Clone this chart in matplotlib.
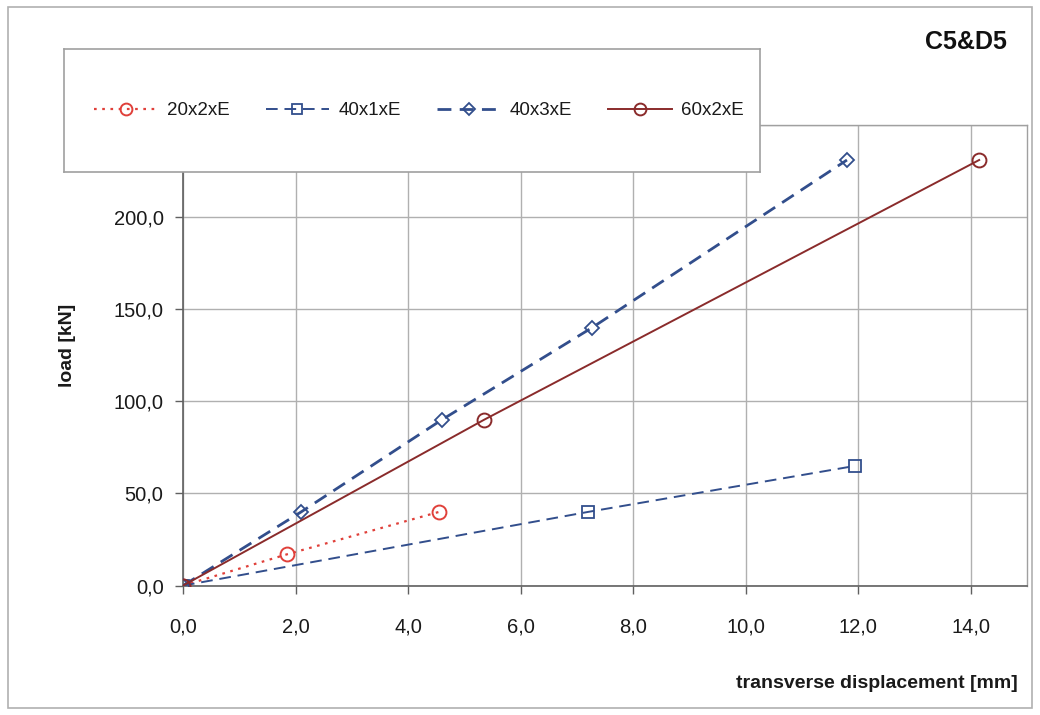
import matplotlib
matplotlib.use("Agg")
import matplotlib.pyplot as plt
from matplotlib.patches import Rectangle

plt.rcParams['font.family'] = ['Liberation Sans', 'DejaVu Sans']

# ---- data ----
series_names = ["20x2xE", "40x1xE", "40x3xE", "60x2xE"]
x_20x2 = [0.0, 1.85, 4.55]
y_20x2 = [0.0, 17.0, 40.0]
x_40x1 = [0.0, 7.2, 11.95]
y_40x1 = [0.0, 40.0, 65.0]
x_40x3 = [0.0, 2.1, 4.6, 7.27, 11.8]
y_40x3 = [0.0, 40.0, 90.0, 140.0, 231.0]
x_60x2 = [0.0, 5.35, 14.15]
y_60x2 = [0.0, 90.0, 231.0]

x_ticks = [0, 2, 4, 6, 8, 10, 12, 14]
x_tick_labels = ["0,0", "2,0", "4,0", "6,0", "8,0", "10,0", "12,0", "14,0"]
y_ticks = [0, 50, 100, 150, 200, 250]
y_tick_labels = ["0,0", "50,0", "100,0", "150,0", "200,0", "250,0"]

title = "C5&D5"
x_label = "transverse displacement [mm]"
y_label = "load [kN]"

W, H = 1040, 715
fig = plt.figure(figsize=(W / 100, H / 100), dpi=100)
fig.patch.set_facecolor("white")

# outer frame
fig.patches.append(Rectangle((8 / W, 1 - 708 / H), (1032 - 8) / W, (708 - 7) / H,
                             transform=fig.transFigure, fill=False,
                             edgecolor="#b0b0b0", linewidth=1.2, zorder=0))

left, right, top, bottom = 183, 1027, 125, 585.6
ax = fig.add_axes([left / W, 1 - bottom / H, (right - left) / W, (bottom - top) / H])

red = "#e0403a"
blue = "#324e8c"
maroon = "#8a2b2b"

l1, = ax.plot(x_20x2, y_20x2, color=red, linestyle=(0, (1.2, 2.5)), linewidth=1.6,
              marker="o", markersize=10, markerfacecolor="none", markeredgecolor=red,
              markeredgewidth=1.4, label=series_names[0], zorder=3)
l2, = ax.plot(x_40x1, y_40x1, color=blue, linestyle=(0, (6, 3.5)), linewidth=1.4,
              marker="s", markersize=8.5, markerfacecolor="none", markeredgecolor=blue,
              markeredgewidth=1.3, label=series_names[1], zorder=3)
l3, = ax.plot(x_40x3, y_40x3, color=blue, linestyle=(0, (5, 3)), linewidth=2.0,
              marker="D", markersize=7, markerfacecolor="none", markeredgecolor=blue,
              markeredgewidth=1.3, label=series_names[2], zorder=3)
l4, = ax.plot(x_60x2, y_60x2, color=maroon, linestyle="-", linewidth=1.4,
              marker="o", markersize=10, markerfacecolor="none", markeredgecolor=maroon,
              markeredgewidth=1.4, label=series_names[3], zorder=3)

ax.set_xlim(0, 15)
ax.set_ylim(0, 250)
ax.set_xticks(x_ticks)
ax.set_xticklabels(x_tick_labels)
ax.set_yticks(y_ticks)
ax.set_yticklabels(y_tick_labels)
ax.grid(True, color="#b0b0b0", linewidth=1.0)
ax.set_axisbelow(True)
for s in ["top", "right"]:
    ax.spines[s].set_color("#a0a0a0")
    ax.spines[s].set_linewidth(1.0)
for s in ["left", "bottom"]:
    ax.spines[s].set_color("#606060")
    ax.spines[s].set_linewidth(1.2)
ax.tick_params(axis="x", direction="out", length=6, width=1, color="#606060",
               labelsize=14.5, pad=17, labelcolor="#1a1a1a")
ax.tick_params(axis="y", direction="out", length=6, width=1, color="#606060",
               labelsize=14.5, pad=8, labelcolor="#1a1a1a")

fig.text(1018 / W, 1 - 683 / H, x_label, ha="right", va="center",
         fontsize=14, fontweight="bold", color="#1a1a1a")
fig.text(67 / W, 1 - 345 / H, y_label, ha="center", va="center", rotation=90,
         fontsize=14, fontweight="bold", color="#1a1a1a")
fig.text(966 / W, 1 - 42 / H, title, ha="center", va="center",
         fontsize=18, fontweight="bold", color="#111111")

# legend box overlay
lx0, ly0, lx1, ly1 = 64, 49, 760, 172
lax = fig.add_axes([lx0 / W, 1 - ly1 / H, (lx1 - lx0) / W, (ly1 - ly0) / H])
lax.set_facecolor("white")
lax.set_xticks([])
lax.set_yticks([])
for s in lax.spines.values():
    s.set_color("#a0a0a0")
    s.set_linewidth(1.2)
leg = lax.legend(handles=[l1, l2, l3, l4], loc="center", ncol=4, frameon=False,
                 fontsize=13.5, handlelength=3.4, handletextpad=0.5,
                 columnspacing=1.9, markerscale=0.85,
                 bbox_to_anchor=(0.51, 0.5))
for t in leg.get_texts():
    t.set_color("#1a1a1a")

fig.savefig("out.png", dpi=100, facecolor="white")
